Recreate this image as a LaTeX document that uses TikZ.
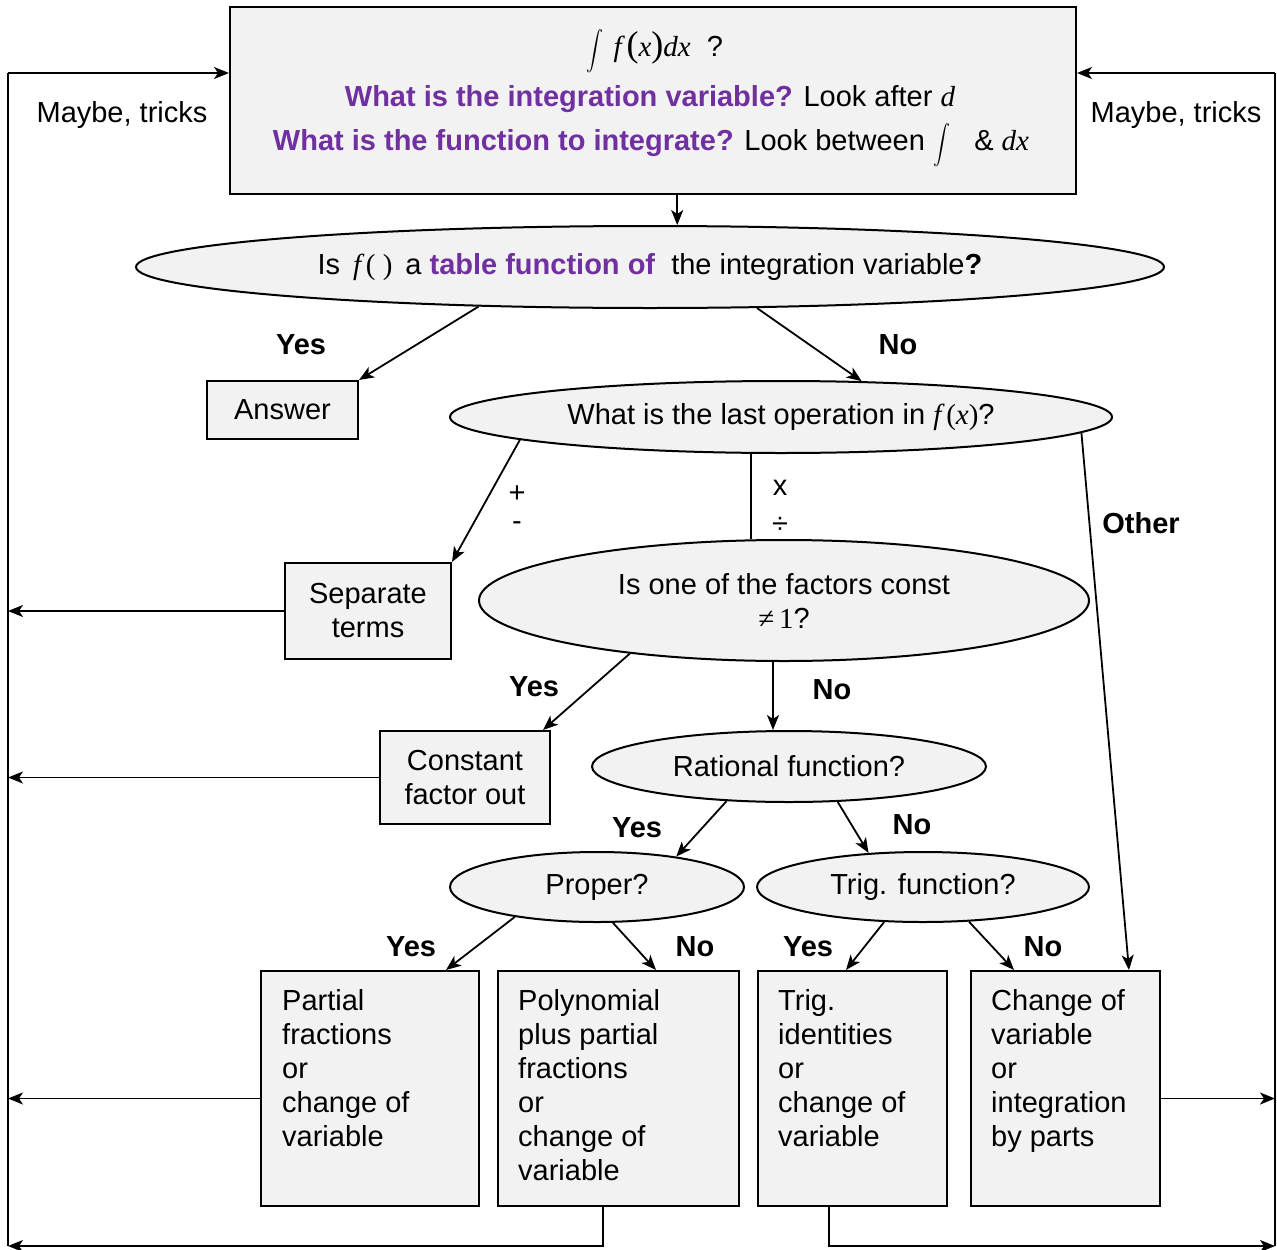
\documentclass[tikz,border=0pt]{standalone}
\usepackage{graphicx}
\usepackage{fontspec}
\setmainfont{Liberation Sans}
\newfontfamily\tms{Liberation Serif}
\usetikzlibrary{shapes.geometric,arrows.meta,calc}
\definecolor{purp}{HTML}{7030A0}
\definecolor{boxfill}{HTML}{F2F2F2}
\newcommand\mi[1]{{\tms\itshape #1}}
\newcommand\bigint{\scalebox{1.7}[1.95]{\normalsize$\displaystyle\int$}}
\begin{document}
\begin{tikzpicture}[x=1pt,y=-1pt,font=\fontsize{29}{34}\selectfont,
  boxst/.style={draw,fill=boxfill,line width=2pt,inner sep=0pt},
  ell/.style={ellipse,draw,fill=boxfill,line width=2pt,inner sep=0pt,align=center},
  arr/.style={-{Stealth[length=15pt,width=12pt,inset=4pt]},line width=1.8pt},
  conn/.style={line width=1.8pt},
  lbl/.style={anchor=base,inner sep=0pt,font=\fontsize{29}{34}\selectfont\bfseries},
  txt/.style={anchor=base,inner sep=0pt},
  sym/.style={inner sep=0pt},
  btxt/.style={anchor=north west,inner sep=0pt,align=left}]
\useasboundingbox (0,0) rectangle (1277,1250);

% top box
\node[boxst,minimum width=846pt,minimum height=187pt] (top) at (653,100.5) {};
\node[txt] (q0) at (655,56) {\bigint\,\,\mi{f}\,{\tms\fontsize{36}{36}\selectfont(}\mi{x}{\tms\fontsize{36}{36}\selectfont)}\mi{dx}\ \ ?};
\node[txt] (q1) at (650,106) {\textcolor{purp}{\bfseries What is the integration variable?} Look after \mi{d}};
\node[txt] (q2) at (651,150) {\textcolor{purp}{\bfseries What is the function to integrate?} Look between \smash{\bigint}\ \ \ \&\ \mi{dx}};

% nodes
\node[ell,minimum width=1028pt,minimum height=82pt] (e1) at (650,267) {Is \,\mi{f}\,{\tms( )}\, a \textcolor{purp}{\bfseries table function of}\ \ the integration variable\textbf{?}};
\node[boxst,minimum width=151pt,minimum height=58pt] (ans) at (282.5,410) {Answer};
\node[ell,minimum width=662pt,minimum height=72pt] (e2) at (781,417) {What is the last operation in \mi{f}\,{\tms(\mi{x})}?};
\node[boxst,minimum width=166pt,minimum height=96pt,align=center] (sep) at (368,611) {Separate\\terms};
\node[ell,minimum width=610pt,minimum height=121pt] (e3) at (784,600.5) {Is one of the factors const\\{\tms ≠\,1}?};
\node[boxst,minimum width=170pt,minimum height=93pt,align=center] (cfo) at (465,777.5) {Constant\\factor out};
\node[ell,minimum width=394pt,minimum height=71pt] (e4) at (789,766.5) {Rational function?};
\node[ell,minimum width=294pt,minimum height=70pt] (e5) at (597,887) {Proper?};
\node[ell,minimum width=332pt,minimum height=70pt] (e6) at (923,887) {Trig. function?};

\node[boxst,minimum width=218pt,minimum height=235pt] (b1) at (370,1088.5) {};
\node[boxst,minimum width=241pt,minimum height=235pt] (b2) at (618.5,1088.5) {};
\node[boxst,minimum width=189pt,minimum height=235pt] (b3) at (852.5,1088.5) {};
\node[boxst,minimum width=189pt,minimum height=235pt] (b4) at (1065.5,1088.5) {};
\node[btxt] (t1) at (282,989) {Partial\\fractions\\or\\change of\\variable};
\node[btxt] (t2) at (518,989) {Polynomial\\plus partial\\fractions\\or\\change of\\variable};
\node[btxt] (t3) at (778,989) {Trig.\\identities\\or\\change of\\variable};
\node[btxt] (t4) at (991,989) {Change of\\variable\\or\\integration\\by parts};

% labels
\node[txt] (mt1) at (122,122) {Maybe, tricks};
\node[txt] (mt2) at (1176,122) {Maybe, tricks};
\node[lbl] (y1) at (301,354.5) {Yes};
\node[lbl] (n1) at (898,354.5) {No};
\node[sym] (plus) at (517,494) {+};
\node[sym] (minus) at (517,526) {-};
\node[sym] (times) at (780,488) {x};
\node[sym] (divide) at (780,525) {÷};
\node[lbl] (oth) at (1141,533.5) {Other};
\node[lbl] (y2) at (534,696.5) {Yes};
\node[lbl] (n2) at (832,699.5) {No};
\node[lbl] (y3) at (637,837.5) {Yes};
\node[lbl] (n3) at (912,834.5) {No};
\node[lbl] (y4) at (411,956.5) {Yes};
\node[lbl] (n4) at (695,956.5) {No};
\node[lbl] (y5) at (808,956.5) {Yes};
\node[lbl] (n5) at (1043,956.5) {No};

% connectors
\draw[arr] (top.south -| e1.57.6) -- (e1.57.6);
\draw[arr] (e1.193.2) -- (ans.north east);
\draw[arr] (e1.339.9) -- (e2.24.4);
\draw[arr] (e2.185) -- (sep.north east);
\draw[conn] (e2.231.1) -- (e2.231.1 |- e3.north);
\draw[arr] (e2.357.4) -- ($(b4.north west)+(159,0)$);
\draw[arr] (e3.199.1) -- ($(cfo.north east)+(-8,0)$);
\draw[arr] ($(e3.south)+(-11,0)$) -- ($(e4.north)+(-16,0)$);
\draw[arr] (e4.209.4) -- (e5.21.2);
\draw[arr] (e4.324.5) -- (e6.148.9);
\draw[arr] (e5.200) -- ($(b1.north east)+(-34,0)$);
\draw[arr] (e5.294.6) -- ($(b2.north west)+(159,0)$);
\draw[arr] (e6.222) -- ($(b3.north west)+(89,0)$);
\draw[arr] (e6.323.9) -- ($(b4.north west)+(44,0)$);

% side loops
\coordinate (L1) at (8,73);
\coordinate (L2) at (8,1246);
\coordinate (R1) at (1275,73);
\coordinate (R2) at (1275,1246);
\draw[conn] (L1) -- (L2);
\draw[conn] (R1) -- (R2);
\draw[arr] (L1) -- (L1 -| top.west);
\draw[arr] (R1) -- (R1 -| top.east);
\draw[arr] (sep.west) -- (sep.west -| L1);
\draw[arr] (cfo.west) -- (cfo.west -| L1);
\coordinate (b1w) at ($(b1.west)+(0,10)$);
\coordinate (b4e) at ($(b4.east)+(0,10)$);
\draw[arr] (b1w) -- (b1w -| L1);
\draw[arr] (b4e) -- (b4e -| R1);
\draw[arr] ($(b2.south)+(-15.5,0)$) |- (L2);
\draw[arr] ($(b3.south)+(-23.5,0)$) |- (R2);
\end{tikzpicture}
\end{document}
